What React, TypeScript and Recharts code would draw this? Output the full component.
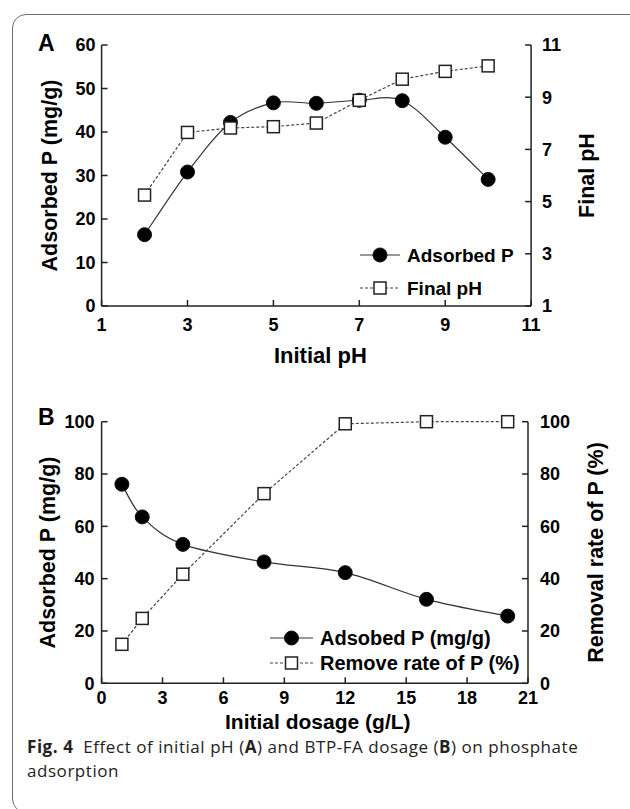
import React from 'react';
import { LineChart, Line, XAxis, YAxis, Legend } from 'recharts';

const FONT = "'Liberation Sans', Arial, Helvetica, sans-serif";
const CAP_FONT = "'Open Sans', 'Noto Sans', sans-serif";

// Panel A
const initialPH = [2, 3, 4, 5, 6, 7, 8, 9, 10];
const adsorbedA = [16.4, 30.8, 42.2, 46.7, 46.6, 47.3, 47.2, 38.8, 29.1];
const finalPH = [5.25, 7.65, 7.82, 7.87, 8.01, 8.88, 9.69, 9.99, 10.2];
const phTicks = [1, 3, 5, 7, 9, 11];
const adsTicksA = [0, 10, 20, 30, 40, 50, 60];
const finalTicks = [1, 3, 5, 7, 9, 11];

// Panel B
const dosage = [1, 2, 4, 8, 12, 16, 20];
const adsorbedB = [76.1, 63.6, 53.1, 46.4, 42.3, 32.1, 25.7];
const removal = [14.9, 24.8, 41.7, 72.5, 99.2, 100, 100];
const dosageTicks = [0, 3, 6, 9, 12, 15, 18, 21];
const pctTicks = [0, 20, 40, 60, 80, 100];

const dataA = initialPH.map((x, i) => ({ x, ads: adsorbedA[i], fin: finalPH[i] }));
const dataB = dosage.map((x, i) => ({ x, ads: adsorbedB[i], rem: removal[i] }));

// Catmull-Rom style smoothing (like a spreadsheet "smoothed line")
function smoothCurve(context: any) {
  let pts: number[][] = [];
  return {
    areaStart() {},
    areaEnd() {},
    lineStart() {
      pts = [];
    },
    lineEnd() {
      const n = pts.length;
      if (!n) return;
      context.moveTo(pts[0][0], pts[0][1]);
      for (let i = 0; i < n - 1; i++) {
        const p0 = pts[i - 1] || pts[i];
        const p1 = pts[i];
        const p2 = pts[i + 1];
        const p3 = pts[i + 2] || pts[i + 1];
        context.bezierCurveTo(
          p1[0] + (p2[0] - p0[0]) / 6,
          p1[1] + (p2[1] - p0[1]) / 6,
          p2[0] - (p3[0] - p1[0]) / 6,
          p2[1] - (p3[1] - p1[1]) / 6,
          p2[0],
          p2[1]
        );
      }
    },
    point(x: number, y: number) {
      pts.push([+x, +y]);
    },
  };
}

const AXIS = '#222';
const tickStyle = { fill: '#000', fontSize: 18, fontWeight: 'bold', fontFamily: FONT } as any;

const CircleDot = (p: any) =>
  p.cx == null ? null : (
    <circle key={`c${p.index}`} cx={p.cx} cy={p.cy} r={7} fill="#000" stroke="#111" strokeWidth={1} />
  );
const SquareDot = (p: any) =>
  p.cx == null ? null : (
    <rect key={`s${p.index}`} x={p.cx - 6} y={p.cy - 6} width={12} height={12} fill="#fff" stroke="#222" strokeWidth={1.5} />
  );

const vTitle = (text: string, side: 'left' | 'right', gap: number) => (props: any) => {
  const vb = props.viewBox || { x: 0, y: 0, width: 0, height: 0 };
  const axisX = side === 'left' ? vb.x + vb.width : vb.x;
  const cx = side === 'left' ? axisX - gap : axisX + gap;
  const cy = vb.y + vb.height / 2;
  return (
    <text
      x={cx}
      y={cy}
      transform={`rotate(-90 ${cx} ${cy})`}
      textAnchor="middle"
      dominantBaseline="central"
      fontFamily={FONT}
      fontWeight="bold"
      fontSize={21.5}
      fill="#000"
    >
      {text}
    </text>
  );
};

const xTitle = (text: string, gap: number, dx: number, size: number) => (props: any) => {
  const vb = props.viewBox || { x: 0, y: 0, width: 0, height: 0 };
  return (
    <text
      x={vb.x + vb.width / 2 + dx}
      y={vb.y + gap}
      textAnchor="middle"
      fontFamily={FONT}
      fontWeight="bold"
      fontSize={size}
      fill="#000"
    >
      {text}
    </text>
  );
};

const makeLegend = (rowGap: number, lineLen: number, fontSize: number) => (props: any) => {
  const payload = props.payload || [];
  return (
    <svg width={260} height={rowGap + 34}>
      {payload.map((e: any, i: number) => {
        const cy = 16 + i * rowGap;
        const isAds = e.dataKey === 'ads';
        const mid = 5 + lineLen / 2;
        return (
          <g key={i}>
            <line
              x1={5}
              x2={5 + lineLen}
              y1={cy}
              y2={cy}
              stroke={isAds ? '#333' : '#444'}
              strokeWidth={1.2}
              strokeDasharray={isAds ? undefined : '3 2'}
            />
            {isAds ? (
              <circle cx={mid} cy={cy} r={7} fill="#000" stroke="#111" />
            ) : (
              <rect x={mid - 6} y={cy - 6} width={12} height={12} fill="#fff" stroke="#222" strokeWidth={1.5} />
            )}
            <text
              x={lineLen + 12}
              y={cy}
              dominantBaseline="central"
              fontFamily={FONT}
              fontWeight="bold"
              fontSize={fontSize}
              fill="#000"
            >
              {e.value}
            </text>
          </g>
        );
      })}
    </svg>
  );
};

export default function App() {
  return (
    <div
      style={{
        position: 'absolute',
        left: 0,
        top: 0,
        width: 630,
        height: 809,
        overflow: 'hidden',
        background: '#fff',
      }}
    >
      <div
        style={{
          position: 'absolute',
          left: 12,
          top: 14,
          width: 660,
          height: 799,
          border: '1.5px solid #6b6b6b',
          borderRadius: 14,
          boxSizing: 'border-box',
        }}
      />

      {/* Panel A */}
      <div style={{ position: 'absolute', left: 0, top: 0 }}>
        <LineChart width={630} height={380} data={dataA} margin={{ top: 45, right: 38.9, left: 41.6, bottom: 14 }}>
          <XAxis
            dataKey="x"
            type="number"
            domain={[1, 11]}
            ticks={phTicks}
            interval={0}
            height={60}
            tickSize={-6}
            tickMargin={18.3}
            tick={tickStyle}
            axisLine={{ stroke: AXIS, strokeWidth: 1.5 }}
            tickLine={{ stroke: AXIS, strokeWidth: 1.5 }}
            label={xTitle('Initial pH', 57, 4, 22)}
          />
          <YAxis
            yAxisId="l"
            orientation="left"
            domain={[0, 60]}
            ticks={adsTicksA}
            interval={0}
            width={60}
            tickSize={-6}
            tickMargin={12}
            tick={tickStyle}
            axisLine={{ stroke: AXIS, strokeWidth: 1.5 }}
            tickLine={{ stroke: AXIS, strokeWidth: 1.5 }}
            label={vTitle('Adsorbed P (mg/g)', 'left', 51.6)}
          />
          <YAxis
            yAxisId="r"
            orientation="right"
            domain={[1, 11]}
            ticks={finalTicks}
            interval={0}
            width={60}
            tickSize={-6}
            tickMargin={17}
            tick={tickStyle}
            axisLine={{ stroke: AXIS, strokeWidth: 1.5 }}
            tickLine={{ stroke: AXIS, strokeWidth: 1.5 }}
            label={vTitle('Final pH', 'right', 55.5)}
          />
          <Legend
            layout="horizontal"
            verticalAlign="middle"
            align="center"
            wrapperStyle={{ left: 355, top: 239, width: 260, height: 70 }}
            content={makeLegend(33, 40, 19)}
          />
          <Line
            yAxisId="l"
            dataKey="ads"
            name="Adsorbed P"
            type={smoothCurve as any}
            stroke="#333"
            strokeWidth={1.2}
            dot={CircleDot}
            activeDot={false}
            isAnimationActive={false}
          />
          <Line
            yAxisId="r"
            dataKey="fin"
            name="Final pH"
            type="linear"
            stroke="#444"
            strokeWidth={1.2}
            strokeDasharray="3 2"
            dot={SquareDot}
            activeDot={false}
            isAnimationActive={false}
          />
        </LineChart>
      </div>

      {/* Panel B */}
      <div style={{ position: 'absolute', left: 0, top: 380 }}>
        <LineChart width={630} height={380} data={dataB} margin={{ top: 41.7, right: 42, left: 41.6, bottom: 16.7 }}>
          <XAxis
            dataKey="x"
            type="number"
            domain={[0, 21]}
            ticks={dosageTicks}
            interval={0}
            height={60}
            tickSize={-6}
            tickMargin={14}
            tick={tickStyle}
            axisLine={{ stroke: AXIS, strokeWidth: 1.5 }}
            tickLine={{ stroke: AXIS, strokeWidth: 1.5 }}
            label={xTitle('Initial dosage (g/L)', 45.7, 3, 21)}
          />
          <YAxis
            yAxisId="l"
            orientation="left"
            domain={[0, 100]}
            ticks={pctTicks}
            interval={0}
            width={60}
            tickSize={-6}
            tickMargin={13}
            tick={tickStyle}
            axisLine={{ stroke: AXIS, strokeWidth: 1.5 }}
            tickLine={{ stroke: AXIS, strokeWidth: 1.5 }}
            label={vTitle('Adsorbed P (mg/g)', 'left', 53.6)}
          />
          <YAxis
            yAxisId="r"
            orientation="right"
            domain={[0, 100]}
            ticks={pctTicks}
            interval={0}
            width={60}
            tickSize={-6}
            tickMargin={18}
            tick={tickStyle}
            axisLine={{ stroke: AXIS, strokeWidth: 1.5 }}
            tickLine={{ stroke: AXIS, strokeWidth: 1.5 }}
            label={vTitle('Removal rate of P (%)', 'right', 67.6)}
          />
          <Legend
            layout="horizontal"
            verticalAlign="middle"
            align="center"
            wrapperStyle={{ left: 265, top: 242.3, width: 260, height: 60 }}
            content={makeLegend(25, 43, 20)}
          />
          <Line
            yAxisId="l"
            dataKey="ads"
            name="Adsobed P (mg/g)"
            type={smoothCurve as any}
            stroke="#333"
            strokeWidth={1.2}
            dot={CircleDot}
            activeDot={false}
            isAnimationActive={false}
          />
          <Line
            yAxisId="r"
            dataKey="rem"
            name="Remove rate of P (%)"
            type="linear"
            stroke="#444"
            strokeWidth={1.2}
            strokeDasharray="3 2"
            dot={SquareDot}
            activeDot={false}
            isAnimationActive={false}
          />
        </LineChart>
      </div>

      {/* Panel letters and caption */}
      <svg
        width={630}
        height={809}
        style={{ position: 'absolute', left: 0, top: 0, pointerEvents: 'none' }}
      >
        <text x={38} y={50.5} fontFamily={FONT} fontWeight="bold" fontSize={23} fill="#000">
          A
        </text>
        <text x={38} y={425} fontFamily={FONT} fontWeight="bold" fontSize={23} fill="#000">
          B
        </text>
        <text x={27} y={753} fontFamily={CAP_FONT} fontSize={17} letterSpacing={0.55} fill="#222">
          <tspan fontWeight="bold">Fig. 4</tspan>
          <tspan>{'\u00a0\u00a0Effect of initial pH ('}</tspan>
          <tspan fontWeight="bold">A</tspan>
          <tspan>{') and BTP-FA dosage ('}</tspan>
          <tspan fontWeight="bold">B</tspan>
          <tspan>{') on phosphate'}</tspan>
        </text>
        <text x={27} y={777} fontFamily={CAP_FONT} fontSize={17} letterSpacing={0.55} fill="#222">
          adsorption
        </text>
      </svg>
    </div>
  );
}
